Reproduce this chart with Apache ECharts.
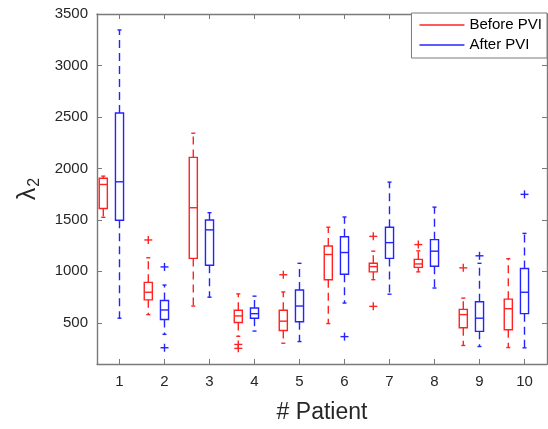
<!DOCTYPE html>
<html>
<head>
<meta charset="utf-8">
<script src="https://cdn.jsdelivr.net/npm/echarts@6/dist/echarts.min.js"></script>
<style>
  html, body { margin: 0; padding: 0; background: #fff; }
  #chart { width: 548px; height: 429px; }
</style>
</head>
<body>
<div id="chart"></div>
<script>
// patients and tick labels
const patients = [1, 2, 3, 4, 5, 6, 7, 8, 9, 10];
const yTicks = [500, 1000, 1500, 2000, 2500, 3000, 3500];

// Before PVI box stats
const beforeLow = [1525, 580, 663, 369, 302, 493, 919, 995, 280, 260];
const beforeQ1 = [1611, 723, 1126, 503, 426, 919, 995, 1039, 452, 433];
const beforeMedian = [1844, 797, 1618, 567, 516, 1164, 1046, 1072, 580, 637];
const beforeQ3 = [1905, 893, 2107, 622, 622, 1247, 1078, 1116, 631, 730];
const beforeHigh = [1925, 1132, 2342, 781, 800, 1429, 1196, 1199, 740, 1123];
const beforeOutlierPatient = [2, 4, 4, 5, 7, 7, 8, 9];
const beforeOutlierValue = [1305, 290, 252, 967, 1340, 660, 1260, 1034];

// After PVI box stats
const afterLow = [545, 388, 749, 420, 318, 692, 778, 838, 270, 257];
const afterQ1 = [1496, 532, 1059, 545, 510, 972, 1126, 1049, 417, 589];
const afterMedian = [1870, 625, 1403, 589, 663, 1183, 1279, 1196, 545, 797];
const afterQ3 = [2538, 717, 1499, 644, 819, 1336, 1429, 1308, 704, 1027];
const afterHigh = [3345, 867, 1570, 759, 1078, 1528, 1867, 1624, 1078, 1369];
const afterOutlierPatient = [2, 2, 6, 9, 10];
const afterOutlierValue = [1043, 258, 366, 1151, 1748];

const RED = '#ff2424';
const BLUE = '#2424ff';
const FONT = "'Liberation Sans', Arial, Helvetica, sans-serif";
const TEXT = '#262626';
const AXIS = '#7a7a7a';
const BOX_W = 0.18;
const LW = 1.4;

function boxRows(low, q1, med, q3, high) {
    return patients.map((p, i) => [p, low[i], q1[i], med[i], q3[i], high[i]]);
}

function boxRenderer(offset, color) {
    return function (params, api) {
        const x = api.value(0) + offset;
        const half = api.size([BOX_W, 0])[0] / 2;
        const cap = half / 2;
        const pLow = api.coord([x, api.value(1)]);
        const pQ1 = api.coord([x, api.value(2)]);
        const pMed = api.coord([x, api.value(3)]);
        const pQ3 = api.coord([x, api.value(4)]);
        const pHigh = api.coord([x, api.value(5)]);
        const cx = pQ1[0];
        const solid = { stroke: color, lineWidth: LW, fill: null };
        const dashed = { stroke: color, lineWidth: LW, fill: null, lineDash: [8, 5] };
        return {
            type: 'group',
            children: [
                { type: 'line', shape: { x1: cx, y1: pQ3[1], x2: cx, y2: pHigh[1] }, style: dashed },
                { type: 'line', shape: { x1: cx, y1: pQ1[1], x2: cx, y2: pLow[1] }, style: dashed },
                { type: 'line', shape: { x1: cx - cap, y1: pHigh[1], x2: cx + cap, y2: pHigh[1] }, style: solid },
                { type: 'line', shape: { x1: cx - cap, y1: pLow[1], x2: cx + cap, y2: pLow[1] }, style: solid },
                { type: 'rect', shape: { x: cx - half, y: pQ3[1], width: half * 2, height: pQ1[1] - pQ3[1] }, style: solid },
                { type: 'line', shape: { x1: cx - half, y1: pMed[1], x2: cx + half, y2: pMed[1] }, style: solid }
            ]
        };
    };
}

function plusRenderer(offset, color) {
    return function (params, api) {
        const p = api.coord([api.value(0) + offset, api.value(1)]);
        const r = 4;
        const st = { stroke: color, lineWidth: LW, fill: null };
        return {
            type: 'group',
            children: [
                { type: 'line', shape: { x1: p[0] - r, y1: p[1], x2: p[0] + r, y2: p[1] }, style: st },
                { type: 'line', shape: { x1: p[0], y1: p[1] - r, x2: p[0], y2: p[1] + r }, style: st }
            ]
        };
    };
}

const chart = echarts.init(document.getElementById('chart'), null, { renderer: 'canvas' });

const lineStyle = { color: AXIS, width: 1.4 };
const tickStyle = { show: true, inside: true, length: 5, lineStyle: { color: AXIS, width: 1 } };
const plainNumber = (v) => String(v);

const option = {
    animation: false,
    backgroundColor: '#fff',
    textStyle: { fontFamily: FONT },
    grid: { left: 97, right: 1, top: 14, bottom: 60 },
    legend: {
        orient: 'vertical',
        right: 1,
        top: 13,
        padding: [4, 5, 5, 8],
        itemGap: 4,
        itemWidth: 45,
        itemHeight: 1.4,
        icon: 'rect',
        borderColor: '#7a7a7a',
        borderWidth: 1,
        backgroundColor: '#fff',
        textStyle: { fontSize: 15, color: '#000', fontFamily: FONT, lineHeight: 16 },
        data: ['Before PVI', 'After PVI']
    },
    xAxis: [{
        type: 'value',
        min: 0.5,
        max: 10.5,
        name: '# Patient',
        nameLocation: 'middle',
        nameGap: 37,
        nameTextStyle: { fontSize: 23, color: TEXT, fontFamily: FONT },
        axisLine: { show: true, lineStyle: lineStyle },
        axisTick: Object.assign({ customValues: patients }, tickStyle),
        axisLabel: { customValues: patients, formatter: plainNumber, fontSize: 15, color: TEXT, margin: 10, fontFamily: FONT },
        splitLine: { show: false }
    }, {
        type: 'value',
        position: 'top',
        min: 0.5,
        max: 10.5,
        axisLine: { show: true, lineStyle: lineStyle },
        axisTick: Object.assign({ customValues: patients }, tickStyle),
        axisLabel: { show: false },
        splitLine: { show: false }
    }],
    yAxis: [{
        type: 'value',
        min: 100,
        max: 3500,
        name: '{a|λ}{b|2}',
        nameLocation: 'middle',
        nameGap: 54,
        nameRotate: 90,
        nameTextStyle: {
            color: TEXT,
            rich: {
                a: { fontSize: 25, color: TEXT, fontFamily: FONT },
                b: { fontSize: 16, color: TEXT, fontFamily: FONT, padding: [14, 0, 0, 1] }
            }
        },
        axisLine: { show: true, lineStyle: lineStyle },
        axisTick: Object.assign({ customValues: yTicks }, tickStyle),
        axisLabel: { customValues: yTicks, formatter: plainNumber, fontSize: 15, color: TEXT, margin: 9, fontFamily: FONT },
        splitLine: { show: false }
    }, {
        type: 'value',
        position: 'right',
        min: 100,
        max: 3500,
        axisLine: { show: true, lineStyle: lineStyle },
        axisTick: Object.assign({ customValues: yTicks }, tickStyle),
        axisLabel: { show: false },
        splitLine: { show: false }
    }],
    series: [{
        name: 'Before PVI',
        type: 'custom',
        itemStyle: { color: RED },
        renderItem: boxRenderer(-0.36, RED),
        encode: { x: 0, y: [1, 2, 3, 4, 5] },
        data: boxRows(beforeLow, beforeQ1, beforeMedian, beforeQ3, beforeHigh)
    }, {
        name: 'After PVI',
        type: 'custom',
        itemStyle: { color: BLUE },
        renderItem: boxRenderer(0, BLUE),
        encode: { x: 0, y: [1, 2, 3, 4, 5] },
        data: boxRows(afterLow, afterQ1, afterMedian, afterQ3, afterHigh)
    }, {
        name: 'Before PVI',
        type: 'custom',
        itemStyle: { color: RED },
        renderItem: plusRenderer(-0.36, RED),
        encode: { x: 0, y: 1 },
        data: beforeOutlierPatient.map((p, i) => [p, beforeOutlierValue[i]])
    }, {
        name: 'After PVI',
        type: 'custom',
        itemStyle: { color: BLUE },
        renderItem: plusRenderer(0, BLUE),
        encode: { x: 0, y: 1 },
        data: afterOutlierPatient.map((p, i) => [p, afterOutlierValue[i]])
    }]
};

chart.setOption(option);
</script>
</body>
</html>
